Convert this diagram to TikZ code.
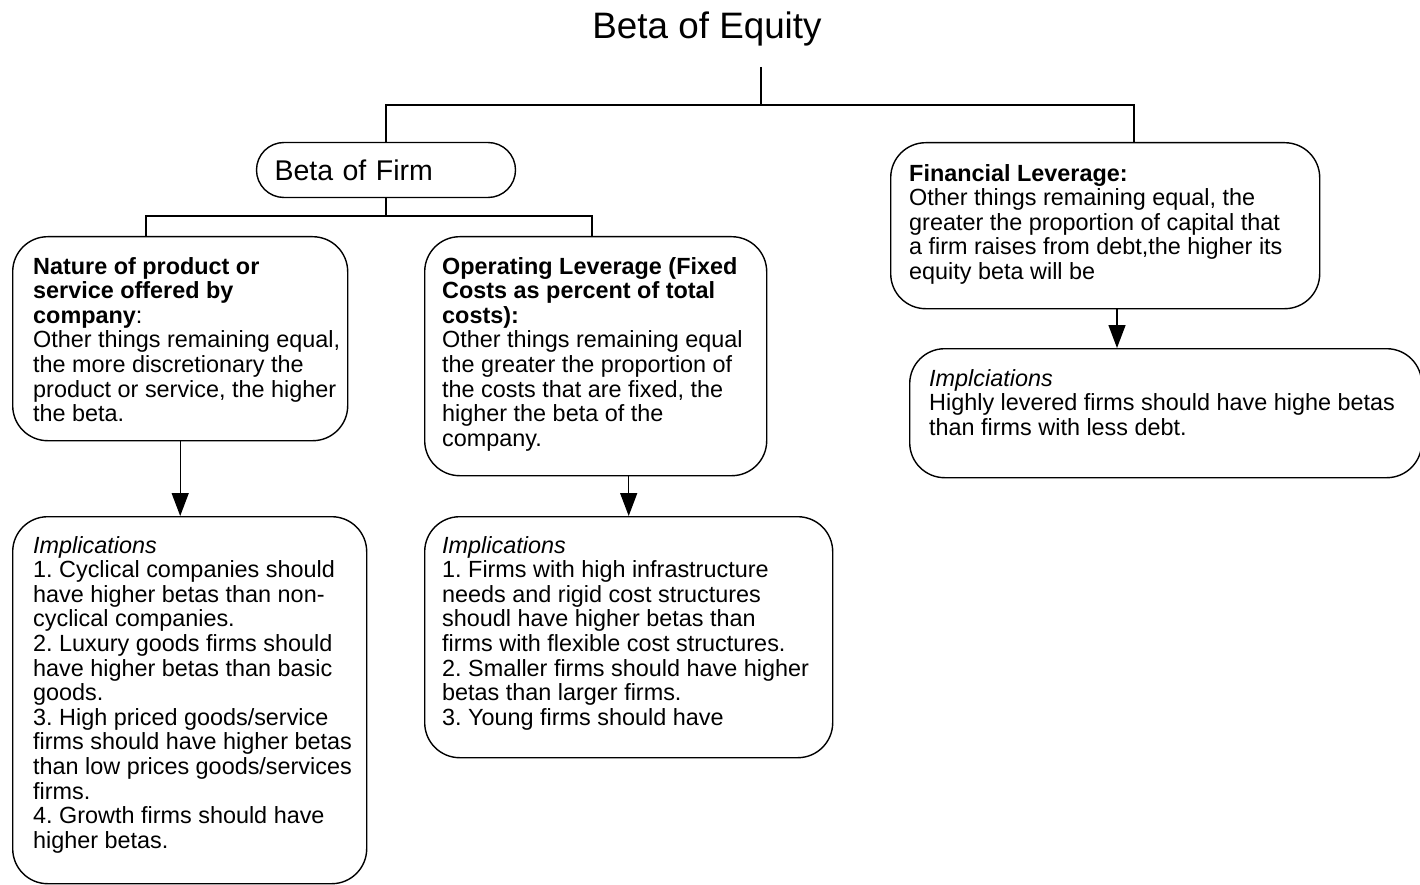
\documentclass[tikz,border=0pt]{standalone}
\usepackage{fontspec}
\setmainfont{Liberation Sans}
\frenchspacing
\usetikzlibrary{arrows.meta}
\begin{document}
\begin{tikzpicture}[x=1pt,y=-1pt,
  box/.style={draw, line width=1.4pt, rounded corners=35pt, anchor=north west, inner sep=0pt},
  txt/.style={anchor=north west, align=left, inner sep=0pt, font=\fontsize{23.4}{24.6}\selectfont},
  conn/.style={line width=1.4pt},
  arr/.style={line width=1.4pt, -{Triangle[width=17pt,length=23pt]}}]
\useasboundingbox (0,0) rectangle (1420,885);
% title
\node[font=\fontsize{36.8}{40}\selectfont, inner sep=0pt] (title) at (707,29) {Beta of Equity};
\coordinate (tstem) at (761,67);
\coordinate (j0) at (761,105);
% Beta of Firm
\node[draw, line width=1.4pt, rounded corners=27.5pt, minimum height=55pt, inner xsep=18pt, inner ysep=0pt,
      text width=223pt, align=left, font=\fontsize{28.5}{32}\selectfont] (bf) at (386,170) {Beta of Firm};
% boxes
\node[box, minimum width=335pt, minimum height=204pt] (b1) at (12,236) {};
\node[box, minimum width=342pt, minimum height=239pt] (b2) at (424,236) {};
\node[box, minimum width=429pt, minimum height=166pt] (b3) at (890,142) {};
\node[box, minimum width=354pt, minimum height=367pt] (b4) at (12,516) {};
\node[box, minimum width=408pt, minimum height=241pt] (b5) at (424,516) {};
\node[box, minimum width=512pt, minimum height=129pt] (b6) at (909,348) {};
% texts
\node[txt] (t1) at (33,257) {\textbf{Nature of product or}\\\textbf{service offered by}\\\textbf{company}:\\Other things remaining equal,\\the more discretionary the\\product or service, the higher\\the beta.};
\node[txt] (t2) at (442,257) {\textbf{Operating Leverage (Fixed}\\\textbf{Costs as percent of total}\\\textbf{costs):}\\Other things remaining equal\\the greater the proportion of\\the costs that are fixed, the\\higher the beta of the\\company.};
\node[txt] (t3) at (909,164) {\textbf{Financial Leverage:}\\Other things remaining equal, the\\greater the proportion of capital that\\a firm raises from debt,the higher its\\equity beta will be};
\node[txt] (t4) at (33,536) {\textit{Implications}\\1. Cyclical companies should\\have higher betas than non-\\cyclical companies.\\2. Luxury goods firms should\\have higher betas than basic\\goods.\\3. High priced goods/service\\firms should have higher betas\\than low prices goods/services\\firms.\\4. Growth firms should have\\higher betas.};
\node[txt] (t5) at (442,536) {\textit{Implications}\\1. Firms with high infrastructure\\needs and rigid cost structures\\shoudl have higher betas than\\firms with flexible cost structures.\\2. Smaller firms should have higher\\betas than larger firms.\\3. Young firms should have};
\node[txt] (t6) at (929,369) {\textit{Implciations}\\Highly levered firms should have highe betas\\than firms with less debt.};
% connectors
\coordinate (flin) at (1134,142);
\draw[conn] (tstem) -- (j0);
\draw[conn] (bf.north) |- (j0) -| (flin);
\coordinate (j1) at (386,216);
\coordinate (n1in) at (146,236);
\coordinate (n2in) at (592,236);
\draw[conn] (bf.south) -- (j1);
\draw[conn] (n1in) |- (j1) -| (n2in);
\draw[arr] (b1.south) -- (b1.south |- b4.north);
\draw[arr] (b2.south -| b5.north) -- (b5.north);
\coordinate (a3) at (1117,308);
\draw[arr] (a3) -- (a3 |- b6.north);
\end{tikzpicture}
\end{document}
